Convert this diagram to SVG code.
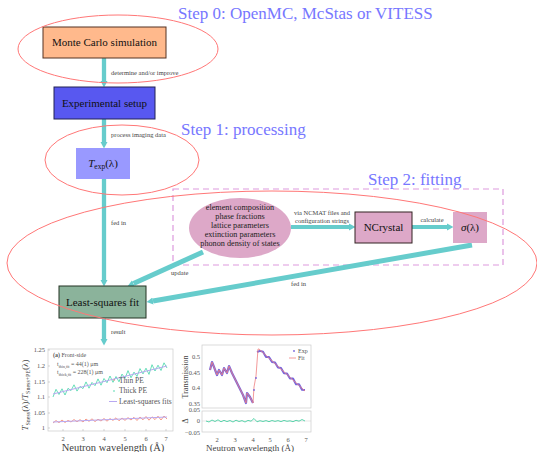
<svg xmlns="http://www.w3.org/2000/svg" width="537" height="452" viewBox="0 0 537 452" font-family="'Liberation Serif', 'DejaVu Serif', serif">
<style>
text, tspan{font-family:'Liberation Serif','DejaVu Serif',serif;}
.step{font-size:17px;fill:#7777ff;}
.box{font-size:11px;fill:#111;text-anchor:middle;}
.lbl{font-size:6.5px;fill:#444;}
.ell{font-size:8.2px;fill:#222;text-anchor:middle;}
.conn{stroke:#66cccc;fill:none;}
.hl{fill:none;stroke:#ff7777;stroke-width:1;}
.frame{fill:#fff;stroke:#cccccc;stroke-width:0.7;}
.tickr{font-size:6.5px;fill:#555;text-anchor:end;}
.tickc{font-size:6.5px;fill:#555;text-anchor:middle;}
.axl{fill:#444;text-anchor:middle;}
.leg{font-size:6px;fill:#555;}
</style>
<defs>
<marker id="ah" markerUnits="userSpaceOnUse" markerWidth="7" markerHeight="8" refX="0" refY="4" orient="auto">
<path d="M0,0.5 L6.5,4 L0,7.5 z" fill="#66cccc"/>
</marker>
</defs>

<g id="step-labels">
<text class="step" x="178" y="19">Step 0: OpenMC, McStas or VITESS</text>
<text class="step" x="181" y="135">Step 1: processing</text>
<text class="step" x="368" y="185">Step 2: fitting</text>
</g>

<g id="fitting-region">
<rect x="173" y="189" width="330" height="76" fill="none" stroke="#dd99dd" stroke-width="1.2" stroke-dasharray="6,4"/>
</g>

<g id="connectors">
<line class="conn" stroke-width="4.3" x1="104" y1="58" x2="104" y2="81" marker-end="url(#ah)"/>
<line class="conn" stroke-width="4.3" x1="104" y1="119" x2="104" y2="142" marker-end="url(#ah)"/>
<line class="conn" stroke-width="4.3" x1="104" y1="179" x2="104" y2="280" marker-end="url(#ah)"/>
<line class="conn" stroke-width="4.3" x1="104" y1="318" x2="104" y2="339" marker-end="url(#ah)"/>
<line class="conn" stroke-width="5" x1="203" y1="252" x2="133.5" y2="283.5" marker-end="url(#ah)"/>
<line class="conn" stroke-width="5" x1="472" y1="245" x2="153" y2="301" marker-end="url(#ah)"/>
<line class="conn" stroke-width="4" x1="291" y1="227" x2="349" y2="227" marker-end="url(#ah)"/>
<line class="conn" stroke-width="4" x1="412" y1="227" x2="447" y2="227" marker-end="url(#ah)"/>
<text class="lbl" x="111" y="75">determine and/or improve</text>
<text class="lbl" x="111" y="137">process imaging data</text>
<text class="lbl" x="111" y="225">fed in</text>
<text class="lbl" x="171" y="275">update</text>
<text class="lbl" x="111" y="334">result</text>
<text class="lbl" x="291" y="286">fed in</text>
<text class="lbl" x="322" y="215" text-anchor="middle">via NCMAT files and</text>
<text class="lbl" x="322" y="223" text-anchor="middle">configuration strings</text>
<text class="lbl" x="432" y="222" text-anchor="middle">calculate</text>
</g>

<g id="monte-carlo">
<rect x="43" y="27" width="123" height="31" fill="#ffb98c" stroke="#553322" stroke-width="1"/>
<text class="box" x="104.5" y="46">Monte Carlo simulation</text>
</g>
<g id="experimental-setup">
<rect x="54" y="87" width="101" height="32" fill="#5858f0" stroke="#222255" stroke-width="1"/>
<text class="box" x="104.5" y="107">Experimental setup</text>
</g>
<g id="t-exp">
<rect x="76" y="148" width="54" height="31" fill="#9999ff"/>
<text class="box" x="103" y="167"><tspan font-style="italic">T</tspan><tspan font-size="7.5px" font-style="normal" dy="2">exp</tspan><tspan font-style="normal" dy="-2">(λ)</tspan></text>
</g>
<g id="parameters">
<ellipse cx="240" cy="228" rx="51" ry="30" fill="#dda8c8"/>
<text class="ell" x="240" y="210">element composition</text>
<text class="ell" x="240" y="219">phase fractions</text>
<text class="ell" x="240" y="228">lattice parameters</text>
<text class="ell" x="240" y="237">extinction parameters</text>
<text class="ell" x="240" y="246">phonon density of states</text>
</g>
<g id="ncrystal">
<rect x="355" y="212" width="57" height="31" fill="#dda8c8" stroke="#332222" stroke-width="1"/>
<text class="box" x="383.5" y="231">NCrystal</text>
</g>
<g id="sigma">
<rect x="453" y="212" width="34" height="31" fill="#dda8c8"/>
<text class="box" x="470" y="231"><tspan font-style="italic">σ</tspan>(λ)</text>
</g>
<g id="least-squares">
<rect x="59" y="286" width="87" height="32" fill="#8bb39b" stroke="#223322" stroke-width="1"/>
<text class="box" x="102.5" y="306">Least-squares fit</text>
</g>

<g id="highlights">
<ellipse class="hl" cx="118" cy="49" rx="100" ry="34"/>
<ellipse class="hl" cx="122" cy="160" rx="77" ry="35"/>
<ellipse class="hl" cx="272" cy="263" rx="265" ry="72"/>
</g>

<g id="plot-left">
<rect class="frame" x="48" y="349" width="125" height="82"/>
<g stroke="#bbb" stroke-width="0.6">
<line x1="48" y1="350" x2="50" y2="350"/><line x1="48" y1="366" x2="50" y2="366"/><line x1="48" y1="382" x2="50" y2="382"/><line x1="48" y1="397" x2="50" y2="397"/><line x1="48" y1="413" x2="50" y2="413"/><line x1="48" y1="428" x2="50" y2="428"/>
<line x1="63" y1="431" x2="63" y2="429"/><line x1="83" y1="431" x2="83" y2="429"/><line x1="104" y1="431" x2="104" y2="429"/><line x1="125" y1="431" x2="125" y2="429"/><line x1="146" y1="431" x2="146" y2="429"/><line x1="166" y1="431" x2="166" y2="429"/>
</g>
<text class="tickr" x="45" y="352">1.25</text>
<text class="tickr" x="45" y="368">1.2</text>
<text class="tickr" x="45" y="384">1.15</text>
<text class="tickr" x="45" y="399">1.1</text>
<text class="tickr" x="45" y="415">1.05</text>
<text class="tickr" x="45" y="430">1</text>
<text class="tickc" x="63" y="441">2</text>
<text class="tickc" x="83" y="441">3</text>
<text class="tickc" x="104" y="441">4</text>
<text class="tickc" x="125" y="441">5</text>
<text class="tickc" x="146" y="441">6</text>
<text class="tickc" x="166" y="441">7</text>
<text class="axl" x="113" y="451" font-size="10.5px">Neutron wavelength (Å)</text>
<text class="axl" transform="translate(28,395) rotate(-90)" font-size="9px"><tspan font-style="italic">T</tspan><tspan font-size="6px" dy="2">Sness</tspan><tspan dy="-2">(λ)/</tspan><tspan font-style="italic">T</tspan><tspan font-size="6px" dy="2">Sness+PE</tspan><tspan dy="-2">(λ)</tspan></text>
<polyline fill="none" stroke="#44d6a8" stroke-width="0.8" points="53,397 56,389.3 59,394.5 62,388.8 65,395 68,388.3 71,390.6 74,384.8 77,391.1 80,386.4 83,388.6 86,381.9 89,388.2 92,382.4 95,385.7 98,378.9 101,385.2 104,378.5 107,382.7 110,376 113,382.3 116,376.5 119,381.8 122,374.1 125,378.3 128,370.6 131,377.8 134,372.1 137,376.4 140,368.6 143,373.9 146,368.2 149,374.4 152,364.7 155,371 158,365.2 161,370.5 164,362.8 167,368"/>
<polyline fill="none" stroke="#f4806b" stroke-width="0.8" points="53,423 56,420.5 59,422.7 62,420 65,422.5 68,420.4 71,422 74,419.5 77,421.8 80,419.6 83,422 86,419 89,421.4 92,418.8 95,421.6 98,419.2 101,421 104,418.5 107,421.2 110,418.6 113,420.4 116,417.8 119,420.8 122,418 125,420.4 128,417.6 131,420 134,417.3 137,420.5 140,417 143,419.8 146,416.5 149,420.2 152,416.8 155,419.6 158,416.2 161,420 164,416 167,419"/>
<line x1="53" y1="394" x2="167" y2="366" stroke="#b8a8f0" stroke-width="1"/>
<line x1="53" y1="422" x2="167" y2="417" stroke="#b8a8f0" stroke-width="1"/>
<text class="leg" x="53" y="357"><tspan font-weight="bold">(a)</tspan> Front-side</text>
<text class="leg" x="57" y="366">t<tspan font-size="4px" dy="1.5">thin,fit</tspan><tspan dy="-1.5"> = 44(1) μm</tspan></text>
<text class="leg" x="57" y="374">t<tspan font-size="4px" dy="1.5">thick,fit</tspan><tspan dy="-1.5"> = 228(1) μm</tspan></text>
<circle cx="114" cy="380" r="0.7" fill="#f4806b"/>
<circle cx="114" cy="391" r="0.8" fill="#44d6a8"/>
<line x1="109" y1="401.5" x2="117" y2="401.5" stroke="#b8a8f0" stroke-width="1"/>
<text x="119" y="382.5" font-size="7.5px" fill="#555">Thin PE</text>
<text x="119" y="393" font-size="7.5px" fill="#555">Thick PE</text>
<text x="119" y="404" font-size="7.5px" fill="#555">Least-squares fits</text>
</g>

<g id="plot-right">
<rect class="frame" x="202" y="345" width="109" height="63"/>
<rect class="frame" x="202" y="411" width="109" height="21"/>
<line x1="202" y1="421" x2="311" y2="421" stroke="#ccc" stroke-width="0.5"/>
<text class="tickr" x="200" y="359">0.5</text>
<text class="tickr" x="200" y="375">0.45</text>
<text class="tickr" x="200" y="390">0.4</text>
<text class="tickr" x="200" y="406">0.35</text>
<text class="tickr" x="200" y="412">0.05</text>
<text class="tickr" x="200" y="423">0</text>
<text class="tickr" x="200" y="435">−0.05</text>
<text class="tickc" x="217" y="442">2</text>
<text class="tickc" x="235" y="442">3</text>
<text class="tickc" x="253" y="442">4</text>
<text class="tickc" x="270" y="442">5</text>
<text class="tickc" x="288" y="442">6</text>
<text class="tickc" x="306" y="442">7</text>
<text class="axl" x="250" y="451" font-size="9px">Neutron wavelength (Å)</text>
<text class="axl" transform="translate(188,377) rotate(-90)" font-size="8px">Transmission</text>
<text class="axl" transform="translate(188,421) rotate(-90)" font-size="8px">Δ</text>
<polyline fill="none" stroke="#7766dd" stroke-width="2.2" stroke-linejoin="round" points="210,370 212,362 214,367 217,375 219,370 222,375 224,368 227,373 229,366 232,373 233,375 238,385 243,395 246,403 247,393 250,397 253,403"/>
<polyline fill="none" stroke="#7766dd" stroke-width="2" stroke-linejoin="round" points="257,352 260,350.9 263,351.7 266,356.9 269,357.1 272,361.9 275,362.4 278,367.6 281,368.1 284,373.3 287,373.4 290,378.5 293,378.5 296,384.3 299,384.2 302,389.8 305,390"/>
<polyline fill="none" stroke="#f08080" stroke-width="0.8" points="210,370 212,362 214,367 217,375 219,370 222,375 224,368 227,373 229,366 232,373 233,375 238,385 243,395 246,403 247,393 250,397 253,403 254,387 256,376 258,349 259,349 305,391"/>
<circle cx="254" cy="390" r="0.9" fill="#7766dd"/>
<circle cx="256" cy="378" r="0.9" fill="#7766dd"/>
<polyline fill="none" stroke="#33cc99" stroke-width="0.8" points="206,421 209,422 212,420 215,421.5 218,419.8 221,421.8 224,420.3 227,421.6 230,420.5 233,422 236,420.2 239,421.5 242,420.6 245,422 248,420.4 251,421.2 254,418.5 257,421.8 260,420.7 263,421.5 266,420.6 269,421.7 272,420.5 275,421.4 278,420.6 281,421.6 284,420.4 287,421.3 290,420.8 293,421.7 296,420.3 299,421.2 302,419.5 305,421"/>
<circle cx="294" cy="351" r="0.9" fill="#7766dd"/>
<line x1="289" y1="358" x2="296" y2="358" stroke="#f08080" stroke-width="0.8"/>
<text class="leg" x="298" y="353" font-size="6.5px">Exp</text>
<text class="leg" x="298" y="360" font-size="6.5px">Fit</text>
</g>
</svg>
